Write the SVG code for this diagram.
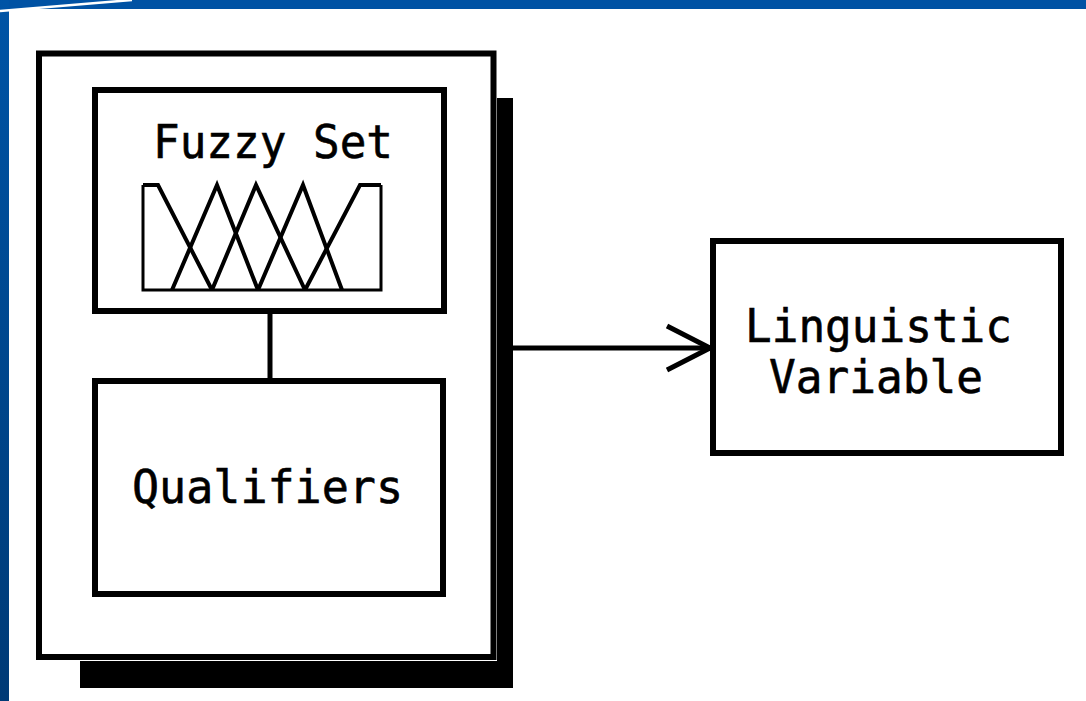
<svg xmlns="http://www.w3.org/2000/svg" width="1086" height="701" viewBox="0 0 1086 701">
<defs>
<linearGradient id="lb" x1="0" y1="0" x2="0" y2="1">
<stop offset="0" stop-color="#0054a6"/>
<stop offset="1" stop-color="#003a76"/>
</linearGradient>
<style>
.box{fill:#fff;stroke:#000;stroke-width:6}
.ln{fill:none;stroke:#000;stroke-width:5;stroke-linejoin:miter}
.mf{fill:none;stroke:#000;stroke-width:4;stroke-linejoin:miter}
.t{font-family:"DejaVu Sans Mono","Liberation Mono",monospace;font-size:47px;fill:#000;stroke:#000;stroke-width:0.6}
</style>
</defs>
<rect x="0" y="0" width="1086" height="701" fill="#fff"/>
<g id="frame">
<rect x="0" y="0" width="1086" height="9" fill="#0052a4"/>
<rect x="0" y="0" width="9" height="701" fill="url(#lb)"/>
<line x1="0" y1="11" x2="132" y2="0" stroke="#fff" stroke-width="2.5"/>
</g>
<g id="container">
<path d="M497 98 H513 V688 H80 V661 H497 Z" fill="#000"/>
<rect class="box" x="39" y="53.5" width="454.5" height="603.5" stroke-width="7"/>
</g>
<g id="connectors">
<line class="ln" x1="270" y1="311" x2="270" y2="381"/>
<line class="ln" x1="513" y1="348" x2="710" y2="348"/>
<polyline class="ln" points="667,326 710,348 667,370"/>
</g>
<g id="fuzzy-set">
<rect class="box" x="95" y="90" width="349" height="221"/>
<text class="t" x="153" y="158" textLength="240" lengthAdjust="spacingAndGlyphs">Fuzzy Set</text>
<path d="M143 185 V290 H381 V185" fill="none" stroke="#000" stroke-width="3"/>
<polyline class="mf" points="143,185 158,185 212,290"/>
<polyline class="mf" points="172,290 217,185 258,290"/>
<polyline class="mf" points="212,290 256,185 305,290"/>
<polyline class="mf" points="258,290 303,185 342,290"/>
<polyline class="mf" points="305,290 360,185 381,185"/>
</g>
<g id="qualifiers">
<rect class="box" x="95" y="381" width="348" height="213"/>
<text class="t" x="132" y="503" textLength="271" lengthAdjust="spacingAndGlyphs">Qualifiers</text>
</g>
<g id="linguistic-variable">
<rect class="box" x="713" y="241" width="348" height="212" stroke-width="5"/>
<text class="t" x="745" y="342" textLength="267" lengthAdjust="spacingAndGlyphs">Linguistic</text>
<text class="t" x="769" y="393" textLength="214" lengthAdjust="spacingAndGlyphs">Variable</text>
</g>
</svg>
